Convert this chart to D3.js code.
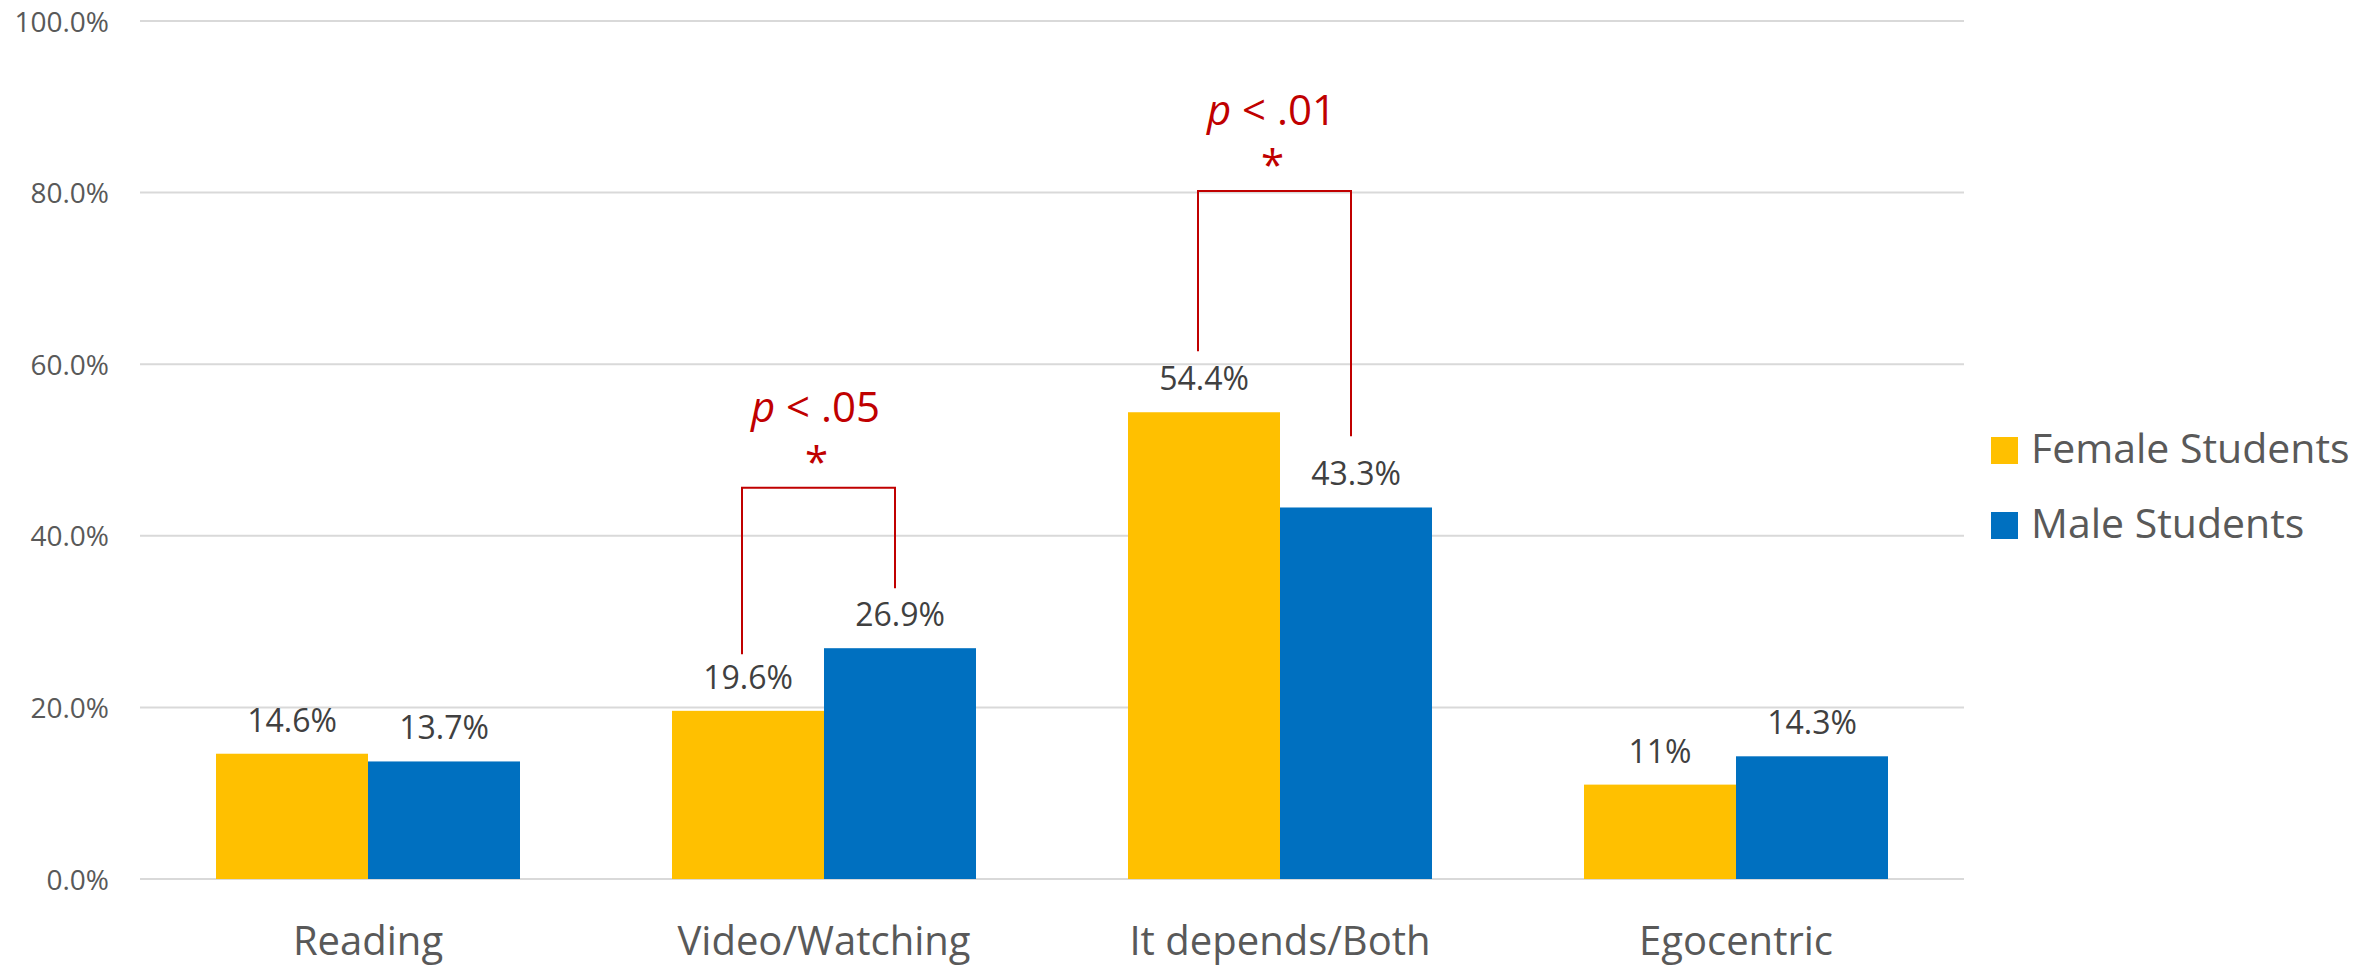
<!DOCTYPE html>
<html>
<head>
<meta charset="utf-8">
<script src="https://cdn.jsdelivr.net/npm/d3@7"></script>
<style>
  html, body { margin: 0; padding: 0; background: #fff; }
  svg { display: block; font-family: "Open Sans", sans-serif; }
</style>
</head>
<body>
<script>
// ---- data ----
const categories = ["Reading", "Video/Watching", "It depends/Both", "Egocentric"];
const seriesNames = ["Female Students", "Male Students"];
const femaleValues = [14.6, 19.6, 54.4, 11];
const maleValues = [13.7, 26.9, 43.3, 14.3];
const femaleLabels = ["14.6%", "19.6%", "54.4%", "11%"];
const maleLabels = ["13.7%", "26.9%", "43.3%", "14.3%"];
const yTicks = [0, 20, 40, 60, 80, 100];
// significance brackets: category, bracket top, left/right leg ends (in % units), text
const sigCategories = ["Video/Watching", "It depends/Both"];
const sigTexts = [".05", ".01"];
const sigTop = [45.6, 80.2];
const sigLeftEnd = [26.2, 61.5];
const sigRightEnd = [33.9, 51.6];

const W = 2364, H = 966;
const colors = ["#FFC000", "#0070C0"];
const red = "#C00000";

const svg = d3.select("body").append("svg").attr("width", W).attr("height", H);

const plot = { left: 140, right: 1964, top: 21, bottom: 879 };

const x = d3.scaleBand().domain(categories)
  .range([plot.left, plot.right]).paddingInner(1/3).paddingOuter(1/6);
const xs = d3.scaleBand().domain(seriesNames).range([0, x.bandwidth()]);
const y = d3.scaleLinear().domain([0, 100]).range([plot.bottom, plot.top]);

// gridlines
svg.append("g").selectAll("line").data(yTicks).join("line")
  .attr("x1", plot.left).attr("x2", plot.right)
  .attr("y1", d => y(d)).attr("y2", d => y(d))
  .attr("stroke", "#d9d9d9").attr("stroke-width", 2);

// y axis labels
const yAxis = d3.axisLeft(y).tickValues(yTicks).tickSize(0).tickPadding(31)
  .tickFormat(d => d.toFixed(1) + "%");
const ya = svg.append("g").attr("transform", `translate(${plot.left},0)`).call(yAxis);
ya.select(".domain").remove();
ya.selectAll("text").attr("font-size", 28).attr("fill", "#595959")
  .attr("font-family", "Open Sans, sans-serif").attr("dy", "0.36em");

// x axis labels
const xAxis = d3.axisBottom(x).tickSize(0).tickPadding(48);
const xa = svg.append("g").attr("transform", `translate(0,${plot.bottom})`).call(xAxis);
xa.select(".domain").remove();
xa.selectAll("text").attr("font-size", 40).attr("fill", "#595959")
  .attr("font-family", "Open Sans, sans-serif");

// bars
const rows = categories.map((c, i) => ({
  cat: c,
  vals: [
    { s: seriesNames[0], v: femaleValues[i], label: femaleLabels[i], ci: 0 },
    { s: seriesNames[1], v: maleValues[i], label: maleLabels[i], ci: 1 }
  ]
}));

const groups = svg.append("g").selectAll("g").data(rows).join("g")
  .attr("transform", d => `translate(${x(d.cat)},0)`);

groups.selectAll("rect").data(d => d.vals).join("rect")
  .attr("x", d => xs(d.s)).attr("width", xs.bandwidth())
  .attr("y", d => y(d.v)).attr("height", d => y(0) - y(d.v))
  .attr("fill", d => colors[d.ci]);

groups.selectAll("text").data(d => d.vals).join("text")
  .attr("x", d => xs(d.s) + xs.bandwidth() / 2)
  .attr("y", d => y(d.v) - 22)
  .attr("text-anchor", "middle")
  .attr("font-size", 32).attr("fill", "#404040")
  .text(d => d.label);

// significance brackets
sigCategories.forEach((c, i) => {
  const xl = x(c) + xs(seriesNames[0]) + xs.bandwidth() / 2 - 6;
  const xr = x(c) + xs(seriesNames[1]) + xs.bandwidth() / 2 - 5;
  const path = d3.path();
  path.moveTo(xl, y(sigLeftEnd[i]));
  path.lineTo(xl, y(sigTop[i]));
  path.lineTo(xr, y(sigTop[i]));
  path.lineTo(xr, y(sigRightEnd[i]));
  svg.append("path").attr("d", path.toString())
    .attr("fill", "none").attr("stroke", red).attr("stroke-width", 2);
  const cx = (xl + xr) / 2;
  svg.append("text").attr("x", cx - 2).attr("y", y(sigTop[i]) - 11)
    .attr("text-anchor", "middle").attr("font-size", 42).attr("fill", red)
    .text("*");
  const t = svg.append("text").attr("x", cx - 3).attr("y", y(sigTop[i]) - 66)
    .attr("text-anchor", "middle").attr("font-size", 42).attr("fill", red);
  t.append("tspan").attr("font-style", "italic").text("p");
  t.append("tspan").text(" < " + sigTexts[i]);
});

// legend
const legend = svg.append("g").selectAll("g").data(seriesNames).join("g")
  .attr("transform", (d, i) => `translate(1991,${437 + i * 75})`);
legend.append("rect").attr("width", 27).attr("height", 27)
  .attr("fill", (d, i) => colors[i]);
legend.append("text").attr("x", 40).attr("y", 26)
  .attr("font-size", 41).attr("fill", "#595959").text(d => d);
</script>
</body>
</html>
